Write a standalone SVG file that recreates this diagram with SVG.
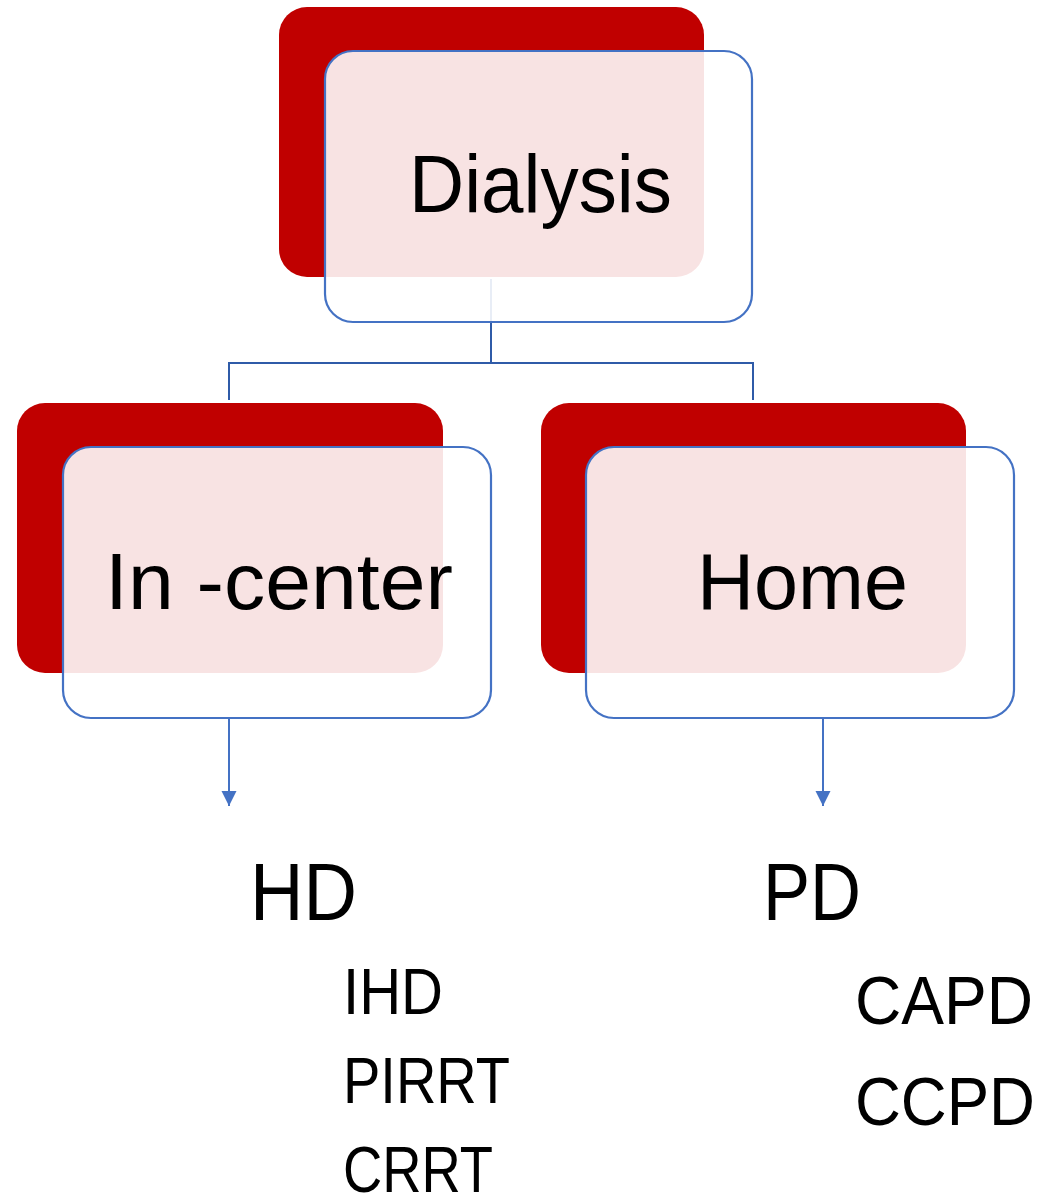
<svg xmlns="http://www.w3.org/2000/svg" width="1046" height="1198" viewBox="0 0 1046 1198">
<style>
.back{fill:#C00000}
.front{fill:#FFFFFF;fill-opacity:0.89;stroke:#4472C4;stroke-width:2.2}
.lbl{font-family:"Liberation Sans","Noto Sans",sans-serif;fill:#000}
.conn{fill:none;stroke:#2F5BA8;stroke-width:2}
.arr{fill:none;stroke:#4472C4;stroke-width:2}
</style>
<defs>
<marker id="ah" markerWidth="16" markerHeight="16" refX="15" refY="7.5" orient="auto" markerUnits="userSpaceOnUse">
<path d="M0,0 L15,7.5 L0,15 Z" fill="#4472C4"/>
</marker>
</defs>
<rect width="1046" height="1198" fill="#FFFFFF"/>
<g id="back-rects">
<rect class="back" x="279" y="7" width="425" height="270" rx="28"/>
<rect class="back" x="17" y="403" width="426" height="270" rx="28"/>
<rect class="back" x="541" y="403" width="425" height="270" rx="28"/>
</g>
<g id="connectors">
<path class="conn" d="M491,279 V363 M229,363 H753 M229,362 V400 M753,362 V400"/>
<path class="arr" d="M229,719 V806" marker-end="url(#ah)"/>
<path class="arr" d="M823,719 V806" marker-end="url(#ah)"/>
</g>
<g id="node-dialysis">
<rect class="front" x="325" y="51" width="427" height="271" rx="28"/>
<text class="lbl" x="409" y="212" font-size="81" textLength="263" lengthAdjust="spacingAndGlyphs">Dialysis</text>
</g>
<g id="node-incenter">
<rect class="front" x="63" y="447" width="428" height="271" rx="28"/>
<text class="lbl" x="105" y="609" font-size="80" textLength="348" lengthAdjust="spacingAndGlyphs">In -center</text>
</g>
<g id="node-home">
<rect class="front" x="586" y="447" width="428" height="271" rx="28"/>
<text class="lbl" x="697" y="609" font-size="80" textLength="211" lengthAdjust="spacingAndGlyphs">Home</text>
</g>
<g id="node-hd">
<text class="lbl" x="250" y="920" font-size="81" textLength="107" lengthAdjust="spacingAndGlyphs">HD</text>
<text class="lbl" x="343" y="1014" font-size="64" textLength="100" lengthAdjust="spacingAndGlyphs">IHD</text>
<text class="lbl" x="343" y="1103" font-size="64" textLength="167" lengthAdjust="spacingAndGlyphs">PIRRT</text>
<text class="lbl" x="343" y="1192" font-size="64" textLength="150" lengthAdjust="spacingAndGlyphs">CRRT</text>
</g>
<g id="node-pd">
<text class="lbl" x="763" y="920" font-size="81" textLength="98" lengthAdjust="spacingAndGlyphs">PD</text>
<text class="lbl" x="855" y="1024" font-size="68" textLength="178" lengthAdjust="spacingAndGlyphs">CAPD</text>
<text class="lbl" x="855" y="1125" font-size="68" textLength="180" lengthAdjust="spacingAndGlyphs">CCPD</text>
</g>
</svg>
